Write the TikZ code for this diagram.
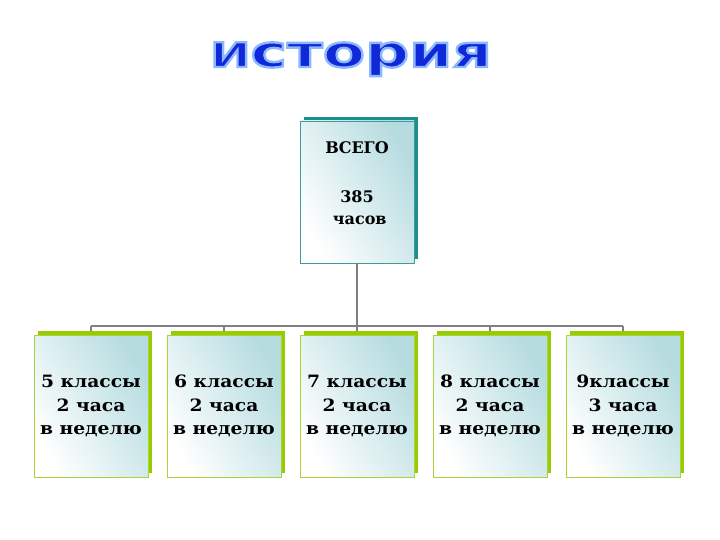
\documentclass[tikz,border=0pt]{standalone}
\usepackage{fontspec}
\setmainfont{DejaVu Serif}
\newfontfamily\cardfont[FakeStretch=1.1]{DejaVu Serif}
\newfontfamily\titlecap[FakeStretch=1.42]{DejaVu Sans}
\newfontfamily\titlelow[FakeStretch=1.4]{DejaVu Sans}
\usepackage{tikz}
\usetikzlibrary{calc, shadows}
\definecolor{cardblue}{HTML}{B6DCE0}
\definecolor{tealedge}{HTML}{3A9C9C}
\definecolor{tealshade}{HTML}{1C8E8E}
\definecolor{greenedge}{HTML}{A8D43A}
\definecolor{greenshade}{HTML}{99CC00}
\definecolor{linegrey}{HTML}{808080}
\definecolor{titleblue}{HTML}{1028D8}
\newcommand\strokedtext[1]{\special{pdf:literal direct 2 Tr 2.4 w 0.55 0.72 0.98 RG}#1\special{pdf:literal direct 0 Tr}}
\tikzset{
card/.style={%
    rectangle,
    minimum width=114pt,
    minimum height=142pt,
    inner sep=0pt,
    left color=white, right color=cardblue, shading angle=120,
    align=center,
    text=black,
    font=\cardfont\bfseries\fontsize{17}{23.5}\selectfont
},
topcard/.style={%
    card, draw=tealedge, thin,
    general shadow={fill=tealshade, shadow xshift=4pt, shadow yshift=4pt},
    font=\bfseries\fontsize{16}{22}\selectfont
},
classcard/.style={%
    card, draw=greenedge, thin,
    general shadow={fill=greenshade, shadow xshift=4pt, shadow yshift=4pt}
},
conn/.style={draw=linegrey, line width=2pt},
}

\begin{document}
\begin{tikzpicture}[x=1pt, y=-1pt]
\useasboundingbox[fill=white] (0,0) rectangle (720,540);

% title
\node[text=titleblue, font=\bfseries, anchor=base] (title) at (351,67)
    {\strokedtext{{\titlecap\fontsize{34}{34}\selectfont И}{\titlelow\fontsize{44}{44}\selectfont стория}}};

% total hours
\node[topcard] (total) at (357,192)
    {\begin{tabular}[b]{@{}c@{}}ВСЕГО\\[27pt]385\\\ часов\end{tabular}\rule[-21pt]{0pt}{1pt}};

% classes
\node[classcard] (c5) at (91,406) {5 классы\\2 часа\\в неделю};
\node[classcard] (c6) at (224,406) {6 классы\\2 часа\\в неделю};
\node[classcard] (c7) at (357,406) {7 классы\\2 часа\\в неделю};
\node[classcard] (c8) at (490,406) {8 классы\\2 часа\\в неделю};
\node[classcard] (c9) at (623,406) {9классы\\3 часа\\в неделю};

\coordinate (bus) at (357,326);
\draw[conn] (total) -- (bus);
\draw[conn] (c5.north |- bus) -- (c9.north |- bus);
\foreach \c in {c5,c6,c7,c8,c9}
    \draw[conn, shorten >=4pt] (\c.north |- bus) -- (\c.north);
\end{tikzpicture}
\end{document}
